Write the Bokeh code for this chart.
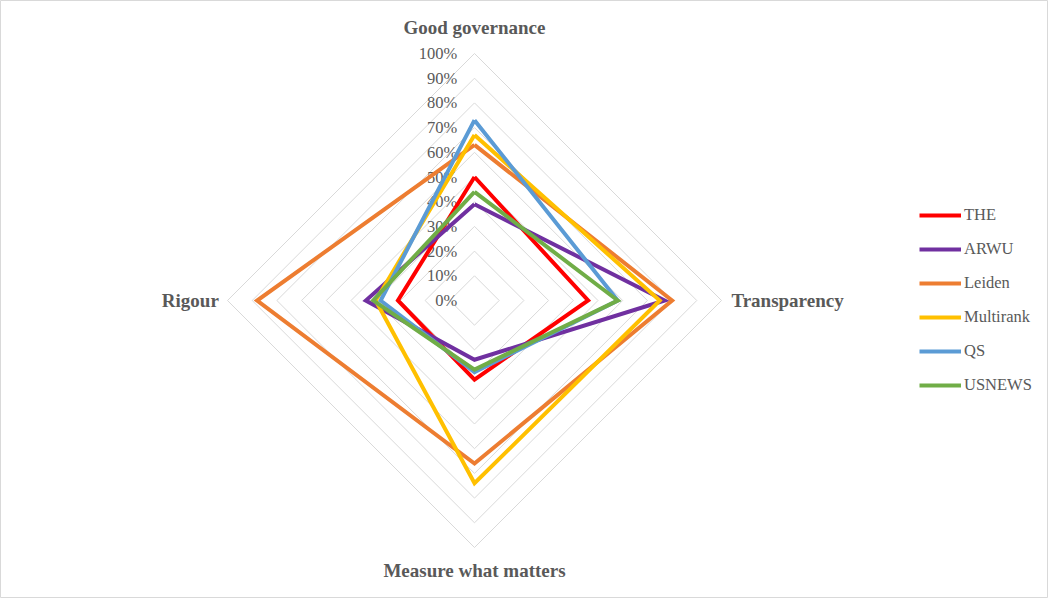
from bokeh.plotting import figure
from bokeh.models import Range1d, Legend, LegendItem
from bokeh.core.properties import value
from bokeh.embed import file_html
from bokeh.resources import INLINE

# categories, clockwise from the top
categories = ["Good governance", "Transparency", "Measure what matters", "Rigour"]

# scores per ranking, in % (same order as categories)
series = ["THE", "ARWU", "Leiden", "Multirank", "QS", "USNEWS"]
THE = [50, 46, 32, 31]
ARWU = [39, 77, 24, 44]
Leiden = [63, 80, 66, 88]
Multirank = [67, 75, 74, 40]
QS = [73, 58, 29, 38]
USNEWS = [44, 58, 28, 41]
values = [THE, ARWU, Leiden, Multirank, QS, USNEWS]
colors = ["#FF0000", "#7030A0", "#ED7D31", "#FFC000", "#5B9BD5", "#70AD47"]

ticks = [0, 10, 20, 30, 40, 50, 60, 70, 80, 90, 100]
tick_labels = [f"{t}%" for t in ticks]

# direction of each category spoke
dirs = [(0, 1), (1, 0), (0, -1), (-1, 0)]

W, H = 1048, 598
k = 2.47  # pixels per percent
cx, cy = 474, 300  # centre in figure pixels (from top-left)

p = figure(width=W, height=H, output_backend="svg", toolbar_location=None,
           x_range=Range1d(-cx / k, (W - cx) / k),
           y_range=Range1d(-(H - cy) / k, cy / k),
           min_border=0)
p.axis.visible = False
p.grid.visible = False
p.outline_line_color = "#d9d9d9"
p.outline_line_width = 1
p.background_fill_color = "white"
p.border_fill_color = "white"

# grid rings
for t in ticks[1:]:
    xs = [d[0] * t for d in dirs] + [dirs[0][0] * t]
    ys = [d[1] * t for d in dirs] + [dirs[0][1] * t]
    p.line(xs, ys, line_color="#d9d9d9", line_width=1)

# tick labels along the top spoke
p.text(x=[-7] * len(ticks), y=ticks, text=tick_labels,
       text_align="right", text_baseline="middle",
       text_font=value("Liberation Serif"), text_font_size="16.5px",
       text_color="#595959")

# category labels
lab = dict(text_font=value("Liberation Serif"), text_font_size="19px",
           text_font_style="bold", text_color="#595959", text_baseline="middle")
p.text(x=[0], y=[110.5], text=[categories[0]], text_align="center", **lab)
p.text(x=[104], y=[0], text=[categories[1]], text_align="left", **lab)
p.text(x=[0], y=[-109.5], text=[categories[2]], text_align="center", **lab)
p.text(x=[-103.5], y=[0], text=[categories[3]], text_align="right", **lab)

items = []
for name, vals, col in zip(series, values, colors):
    xs = [d[0] * v for d, v in zip(dirs, vals)]
    ys = [d[1] * v for d, v in zip(dirs, vals)]
    xs.append(xs[0])
    ys.append(ys[0])
    r = p.line(xs, ys, line_color=col, line_width=4, line_join="miter")
    items.append(LegendItem(label=name, renderers=[r]))

legend = Legend(items=items, location=(919, 203),
                glyph_width=42, glyph_height=20, label_height=20,
                spacing=14, label_standoff=3, padding=0, margin=0,
                border_line_color=None, background_fill_alpha=0,
                label_text_font="Liberation Serif", label_text_font_size="16.5px",
                label_text_color="#595959")
p.add_layout(legend, "center")

open("out.html", "w").write(file_html(p, INLINE))
